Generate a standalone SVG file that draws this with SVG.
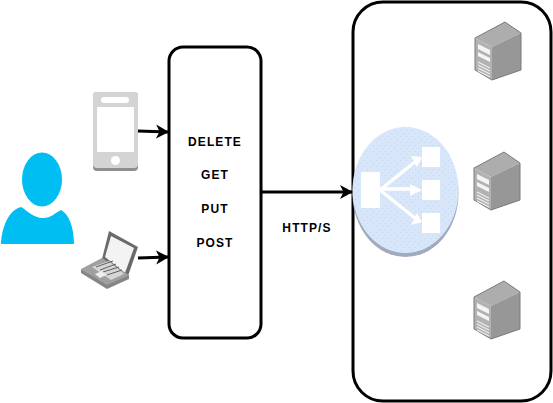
<svg xmlns="http://www.w3.org/2000/svg" width="553" height="403" viewBox="0 0 553 403">
<style>
.box{fill:#fff;stroke:#000;stroke-width:3}
.c{fill:none;stroke:#000;stroke-width:3}
.t{font-family:"Liberation Sans",Arial,sans-serif;font-size:12px;font-weight:bold;fill:#000;text-anchor:middle;letter-spacing:1.1px}
.w{fill:#fff}
.wl{stroke:#fff;stroke-width:3.5;fill:none}
</style>
<defs>
<marker id="a" markerUnits="userSpaceOnUse" markerWidth="14" markerHeight="16" refX="12" refY="8" orient="auto"><path d="M0 1L13 8L0 15L3.5 8Z" fill="#000"/></marker>
<pattern id="dots" width="6" height="6" patternUnits="userSpaceOnUse"><rect width="6" height="6" fill="#d8e6fa"/><rect x="1" y="1" width="1" height="1" fill="#c5d6ee"/><rect x="4" y="4" width="1" height="1" fill="#c5d6ee"/></pattern>
<g id="srv">
<path d="M0 16L30 0L46 11L17 25Z" fill="#adadad"/>
<path d="M0 16L17 25L17 58L0 48Z" fill="#b2b2b2"/>
<path d="M17 25L46 11L46 48L17 58Z" fill="#979797"/>
<path d="M0 16L30 0L46 11L46 48L17 58L0 48Z" fill="none" stroke="#7a7a7a" stroke-width="1"/>
<path d="M3 22L15 28L15 33L3 27ZM3 30L15 36L15 40L3 34Z" fill="#f5f5f5"/>
<path d="M3 40L15 46M3 43L15 49M3 46L15 52M3 49L15 55" stroke="#eee" stroke-width="1.3" fill="none"/>
</g>
</defs>
<g id="user"><path d="M1 244C2 226 9 210 21 207C28 211 33 218 43 218C51 218 55 213 61 210C69 214 74 228 74 244Z" fill="#00bef2"/><ellipse cx="42" cy="179.500" rx="20" ry="27" fill="#00bef2"/></g>
<g id="phone"><rect x="93" y="92" width="45" height="79" rx="4" fill="#8f8f8f"/><rect x="93" y="92" width="45" height="76" rx="4" fill="#d4d4d4"/><rect x="97" y="107" width="37" height="45" rx="1" class="w"/><rect x="101" y="97" width="28" height="6" rx="3" class="w"/><circle cx="115.500" cy="160.500" r="4.500" class="w"/></g>
<g id="laptop"><path d="M109 231L138 247L128 276L102 259Z" fill="#6a6a6a"/><path d="M111 236L134 248L125 273L105 257Z" fill="#f3f3f3"/><path d="M81 269L102 258L129 275L107 286Z" fill="#a0a0a0"/><path d="M81 269L107 285L129 275L129 279L107 289L81 273Z" fill="#858585"/><path d="M92 267L109 261L124 274L111 280Z" fill="#d6d6d6"/><path d="M96 267L113 261M100 270L116 264M103 272L119 267M107 275L122 270" stroke="#5f5f5f" stroke-width="1" fill="none"/><path d="M95 274L102 271L106 275L100 278Z" fill="#eee"/></g>
<g id="gateway"><rect class="box" x="169" y="47" width="92" height="291" rx="14"/><text class="t" x="215" y="146">DELETE</text><text class="t" x="215" y="179">GET</text><text class="t" x="215" y="213">PUT</text><text class="t" x="215" y="247">POST</text></g>
<g id="backend"><rect class="box" x="353" y="2" width="198" height="399" rx="30"/></g>
<g id="balancer"><ellipse cx="405.500" cy="193.500" rx="53" ry="63.500" fill="#a2abbb"/><ellipse cx="405.500" cy="190" rx="53" ry="63" fill="url(#dots)"/><rect class="w" x="361" y="172" width="19" height="36"/><rect class="w" x="422" y="147" width="18" height="20"/><rect class="w" x="422" y="180" width="18" height="20"/><rect class="w" x="422" y="213" width="18" height="20"/><path class="wl" d="M380 190L416 161M380 189H416M380 190L416 219"/><path class="w" d="M422 157L411 156L417 167ZM422 190L410 184V196ZM422 222L417 213L411 225Z"/></g>
<g id="server1"><use href="#srv" x="475" y="22"/></g>
<g id="server2"><use href="#srv" x="474" y="152"/></g>
<g id="server3"><use href="#srv" x="474" y="281"/></g>
<g id="connectors"><path class="c" d="M138 131L168 132" marker-end="url(#a)"/><path class="c" d="M138 258L168 257" marker-end="url(#a)"/><path class="c" d="M261 192H352" marker-end="url(#a)"/></g>
<text class="t" x="307" y="232">HTTP/S</text>
</svg>
